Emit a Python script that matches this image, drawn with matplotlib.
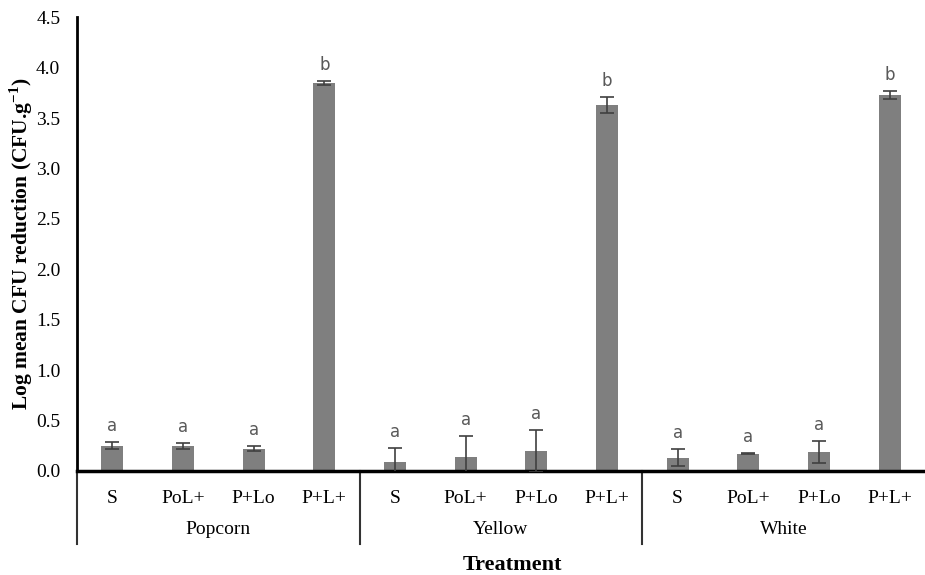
import numpy as np
import matplotlib.pyplot as plt
import matplotlib.transforms as mtransforms

plt.rcParams['font.family'] = 'Liberation Serif'
plt.rcParams['mathtext.fontset'] = 'custom'
plt.rcParams['mathtext.rm'] = 'Liberation Serif'
plt.rcParams['mathtext.bf'] = 'Liberation Serif:bold'

groups = ['Popcorn', 'Yellow', 'White']
treatments = ['S', 'PoL+', 'P+Lo', 'P+L+']
means = [0.25, 0.25, 0.22, 3.85,
         0.09, 0.14, 0.20, 3.63,
         0.13, 0.17, 0.19, 3.73]
errs = [0.035, 0.03, 0.025, 0.02,
        0.14, 0.21, 0.21, 0.08,
        0.085, 0.005, 0.11, 0.04]
letters = ['a', 'a', 'a', 'b'] * 3

fig = plt.figure(figsize=(9.25, 5.75), dpi=100)
ax = fig.add_axes([0.0832, 0.181, 0.9168, 0.789])

x = np.arange(len(means))
ax.bar(x, means, width=0.31, color='#7f7f7f', zorder=2)
ax.errorbar(x, means, yerr=errs, fmt='none', ecolor='#404040',
            elinewidth=1.2, capsize=5, capthick=1.2, zorder=3)
for xi, m, e, l in zip(x, means, errs, letters):
    ax.text(xi, m + e + 0.07, l, ha='center', va='bottom', fontsize=12,
            color='#595959', family='DejaVu Sans')

ax.set_xlim(-0.5, len(means) - 0.5)
ax.set_ylim(0, 4.5)
ax.set_yticks(np.arange(0, 4.51, 0.5))
ax.set_yticklabels([f'{v:.1f}' for v in np.arange(0, 4.51, 0.5)])
ax.set_xticks(x)
ax.set_xticklabels(treatments * 3)
ax.tick_params(axis='both', length=0, labelsize=14, colors='#000000')
ax.tick_params(axis='x', pad=14)
ax.tick_params(axis='y', pad=12)

for s in ['top', 'right']:
    ax.spines[s].set_visible(False)
ax.spines['left'].set_linewidth(2)
ax.spines['bottom'].set_linewidth(2.5)

trans = mtransforms.blended_transform_factory(ax.transData, ax.transAxes)
for i, g in enumerate(groups):
    ax.text(i * 4 + 1.5, -0.13, g, transform=trans, ha='center', va='center',
            fontsize=14)
for b in [-0.5, 3.5, 7.5]:
    ax.plot([b, b], [0, -0.16], transform=trans, color='#333333', lw=1.5,
            clip_on=False)

ax.set_ylabel(r'Log mean CFU reduction (CFU.g$^{\mathbf{-1}}$)', fontsize=15.5,
              fontweight='bold', labelpad=1)
fig.text(0.554, 0.0, 'Treatment', ha='center',
         va='bottom', fontsize=16, fontweight='bold')

fig.savefig('out.png', dpi=100)
